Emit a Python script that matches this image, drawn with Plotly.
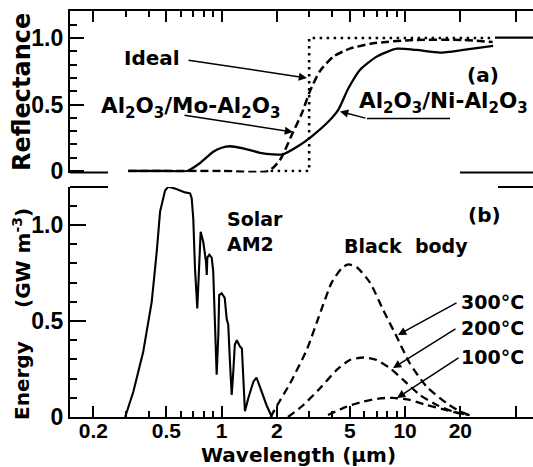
import plotly.graph_objects as go

# ---------------- data ----------------
# Panel (a): reflectance vs wavelength (um)
ni_wl = [0.31, 0.5, 0.65, 0.76, 0.90, 1.0, 1.11, 1.31, 1.62, 1.9, 2.15, 2.67, 3.16, 3.81, 4.32,
         4.9, 5.67, 7.0, 9.0, 11.5, 15.5, 20.8, 30.2]
ni_r = [0.0, 0.0, 0.0, 0.058, 0.145, 0.175, 0.186, 0.17, 0.137, 0.125, 0.125, 0.195, 0.27, 0.37,
        0.46, 0.62, 0.76, 0.86, 0.92, 0.91, 0.89, 0.91, 0.94]

mo_wl = [0.31, 1.0, 1.80, 2.08, 2.41, 2.73, 3.03, 3.43, 4.06, 5.0, 6.7, 11.1, 20.6, 30.0]
mo_r = [0.0, 0.0, 0.0, 0.083, 0.27, 0.43, 0.60, 0.75, 0.86, 0.92, 0.96, 0.985, 0.985, 0.97]

ideal_wl = [1.85, 3.0, 3.0, 30.0]
ideal_r = [0.0, 0.0, 1.0, 1.0]

# Panel (b): spectral energy (GW m^-3)
solar_wl = [0.298, 0.330, 0.374, 0.416, 0.443, 0.462, 0.492, 0.513, 0.557, 0.593, 0.632, 0.673,
            0.687, 0.701, 0.716, 0.737, 0.753, 0.769, 0.795, 0.822, 0.83, 0.836, 0.857, 0.883,
            0.90, 0.92, 0.94, 0.96, 0.97, 1.0, 1.04, 1.066, 1.087, 1.11, 1.135, 1.158, 1.18,
            1.21, 1.26, 1.29, 1.31, 1.34, 1.40, 1.49, 1.55, 1.65, 1.76, 1.88]
solar_e = [0.0, 0.13, 0.34, 0.60, 0.86, 1.07, 1.18, 1.20, 1.19, 1.18, 1.17, 1.165,
           1.14, 1.03, 0.775, 0.566, 0.775, 0.965, 0.91, 0.81, 0.74, 0.83, 0.845, 0.83,
           0.76, 0.51, 0.22, 0.43, 0.635, 0.645, 0.62, 0.51, 0.48, 0.29, 0.115, 0.236, 0.375,
           0.40, 0.366, 0.357, 0.20, 0.03, 0.10, 0.184, 0.205, 0.13, 0.06, 0.0]

bb300_wl = [1.85, 1.95, 2.36, 2.91, 3.44, 3.98, 4.51, 4.9, 5.45, 6.44, 7.6, 9.0, 10.6, 13.1, 16.9, 20.0, 22.5]
bb300_e = [0.0, 0.04, 0.175, 0.35, 0.54, 0.70, 0.775, 0.795, 0.78, 0.70, 0.557, 0.418, 0.28, 0.158, 0.071, 0.028, 0.01]

bb200_wl = [2.3, 2.79, 3.44, 4.24, 5.0, 5.92, 7.0, 8.27, 9.78, 12.05, 14.9, 18.3, 22.0]
bb200_e = [0.0, 0.0625, 0.15, 0.245, 0.297, 0.31, 0.297, 0.254, 0.193, 0.115, 0.0625, 0.028, 0.01]

bb100_wl = [3.8, 4.8, 5.92, 7.3, 8.6, 10.6, 13.1, 16.2, 19.1, 22.5]
bb100_e = [0.01, 0.054, 0.08, 0.097, 0.10, 0.089, 0.0625, 0.04, 0.022, 0.01]

# tick labels
x_major = [0.2, 0.5, 1, 2, 5, 10, 20, 40]
x_major_text = ["0.2", "0.5", "1", "2", "5", "10", "20", ""]
x_minor = [0.3, 0.4, 0.6, 0.7, 0.8, 0.9, 3, 4, 6, 7, 8, 9]
y_major = [0, 0.5, 1.0]
y_major_text = ["0", "0.5", "1.0"]

# ---------------- geometry helpers ----------------
W, H = 533, 467
ML, MR, MT, MB = 70, 0, 11, 50
PW = W - ML - MR
PH = H - MT - MB


def px(x):
    return (x - ML) / PW


def py(y):
    return (H - MB - y) / PH


XR = [-0.8262, 1.6970]
TOP_DOM = [py(172.5), 1.0]
BOT_DOM = [0.0, py(187)]
R_RANGE = [-0.0113, 1.203]
E_RANGE = [0.0, 1.198]

BLACK = "black"
TXT = dict(family="DejaVu Sans", size=20, color=BLACK, weight="bold")
XTICKF = dict(family="Liberation Sans", size=21, color=BLACK, weight="bold")
YTICKF = dict(family="Liberation Sans", size=23, color=BLACK, weight="bold")

fig = go.Figure()

# panel (a)
fig.add_trace(go.Scatter(x=ideal_wl, y=ideal_r, mode="lines", xaxis="x", yaxis="y",
                         line=dict(color=BLACK, width=2.6, dash="2.5px,4.5px")))
fig.add_trace(go.Scatter(x=mo_wl, y=mo_r, mode="lines", xaxis="x", yaxis="y",
                         line=dict(color=BLACK, width=2.5, dash="8px,4px", shape="spline", smoothing=0.6)))
fig.add_trace(go.Scatter(x=ni_wl, y=ni_r, mode="lines", xaxis="x", yaxis="y",
                         line=dict(color=BLACK, width=2.3, shape="spline", smoothing=0.6)))

# panel (b)
fig.add_trace(go.Scatter(x=solar_wl, y=solar_e, mode="lines", xaxis="x2", yaxis="y2",
                         line=dict(color=BLACK, width=2.1)))
for wl, e in [(bb300_wl, bb300_e), (bb200_wl, bb200_e), (bb100_wl, bb100_e)]:
    fig.add_trace(go.Scatter(x=wl, y=e, mode="lines", xaxis="x2", yaxis="y2",
                             line=dict(color=BLACK, width=2.3, dash="8px,5px", shape="spline", smoothing=0.6)))

common_x = dict(type="log", range=XR, showgrid=False, zeroline=False, showline=True,
                linecolor=BLACK, linewidth=2.2, ticks="inside", ticklen=11, tickwidth=1.7,
                tickcolor=BLACK, tickvals=x_major,
                minor=dict(tickvals=x_minor, ticks="inside", ticklen=6, tickwidth=1.7, tickcolor=BLACK))

fig.update_layout(
    width=W, height=H,
    margin=dict(l=ML, r=MR, t=MT, b=MB),
    paper_bgcolor="white", plot_bgcolor="white",
    showlegend=False,
    xaxis=dict(common_x, domain=[0, 1], anchor="y", side="top", showticklabels=False),
    yaxis=dict(domain=TOP_DOM, anchor="x", range=R_RANGE, showgrid=False, zeroline=False,
               showline=True, linecolor=BLACK, linewidth=2.2, ticks="inside", ticklen=14,
               tickwidth=1.7, tickcolor=BLACK, tickvals=y_major, ticktext=y_major_text,
               tickfont=YTICKF,
               minor=dict(dtick=0.1, ticks="inside", ticklen=7, tickwidth=1.7, tickcolor=BLACK)),
    yaxis3=dict(overlaying="y", anchor="x", side="right", range=R_RANGE, showgrid=False,
                zeroline=False, showline=False, ticks="inside", ticklen=8, tickwidth=1.7,
                tickcolor=BLACK, tickvals=[0.1, 0.2, 0.3, 0.4, 0.5, 0.6, 0.7, 0.8, 0.9],
                showticklabels=False),
    xaxis2=dict(common_x, domain=[0, 1], anchor="y2", side="bottom",
                ticktext=x_major_text, tickfont=XTICKF, ticklabelstandoff=-6),
    yaxis2=dict(domain=BOT_DOM, anchor="x2", range=E_RANGE, showgrid=False, zeroline=False,
                showline=True, linecolor=BLACK, linewidth=2.2, ticks="inside", ticklen=16,
                tickwidth=1.7, tickcolor=BLACK, tickvals=y_major, ticktext=y_major_text,
                tickfont=YTICKF,
                minor=dict(dtick=0.1, ticks="inside", ticklen=7, tickwidth=1.7, tickcolor=BLACK)),
    yaxis4=dict(overlaying="y2", anchor="x2", side="right", range=E_RANGE, showgrid=False,
                zeroline=False, showline=False, ticks="inside", ticklen=8, tickwidth=1.7,
                tickcolor=BLACK, tickvals=[0.1, 0.2, 0.3, 0.4, 0.5, 0.6, 0.7, 0.8, 0.9, 1.0, 1.1],
                showticklabels=False),
)


def seg(x0, y0, x1, y1, w=2.2):
    return dict(type="line", xref="paper", yref="paper", x0=px(x0), y0=py(y0), x1=px(x1), y1=py(y1),
                line=dict(color=BLACK, width=w))


fig.update_layout(shapes=[
    seg(70, 172.5, 108, 172.5),
    seg(460, 172.5, 533, 172.5),
    seg(70, 187, 108, 187),
    seg(498, 187, 533, 187),
    seg(495, 37.7, 533, 37.7),
    seg(367, 118.5, 450, 118.5, 1.5),
])

anns = []


def text(t, x, y, size=20, xanchor="center", angle=0, align="center", pad=1):
    f = dict(TXT)
    f["size"] = size
    anns.append(dict(text=t, x=px(x), y=py(y), xref="paper", yref="paper", showarrow=False,
                     xanchor=xanchor, yanchor="middle", font=f, textangle=angle, align=align,
                     borderpad=pad))


def arrow(tx, ty, hx, hy):
    anns.append(dict(text="", x=px(hx), y=py(hy), xref="paper", yref="paper", showarrow=True,
                     ax=tx - hx, ay=ty - hy, arrowhead=2, arrowsize=1.1, arrowwidth=1.5,
                     arrowcolor=BLACK, standoff=0))


text("Ideal", 152, 58)
text("Al<sub>2</sub>O<sub>3</sub>/Mo-Al<sub>2</sub>O<sub>3</sub>", 190, 107, size=21.5)
text("Al<sub>2</sub>O<sub>3</sub>/Ni-Al<sub>2</sub>O<sub>3</sub>", 443, 103, size=21.5, pad=0)
text("(a)", 483, 75, pad=0)
text("Solar<br>AM2", 225, 231, xanchor="left", align="left", size=19)
text("Black\u00a0\u00a0body", 406, 246, size=19)
text("(b)", 484, 215)
text("300°C", 492, 302, size=19)
text("200°C", 492, 328, size=19)
text("100°C", 492, 357, size=19)
text("Wavelength (\u00b5m)", 298, 455)
text("Reflectance", 22, 92, size=24, angle=-90)
text("Energy", 22, 381, size=20, angle=-90)
text("(GW m<sup>-3</sup>)", 22, 258, size=20, angle=-90)

arrow(187, 60, 307, 78)
arrow(183, 115, 293, 132)
arrow(367, 118.5, 340, 111.5)
arrow(458, 302, 398, 335)
arrow(457, 328, 393, 368)
arrow(460, 357, 397, 398)

fig.update_layout(annotations=anns)

fig.write_html("out.html", config={"displayModeBar": False},
               post_script="document.body.style.margin='0px';document.body.style.overflow='hidden';")
